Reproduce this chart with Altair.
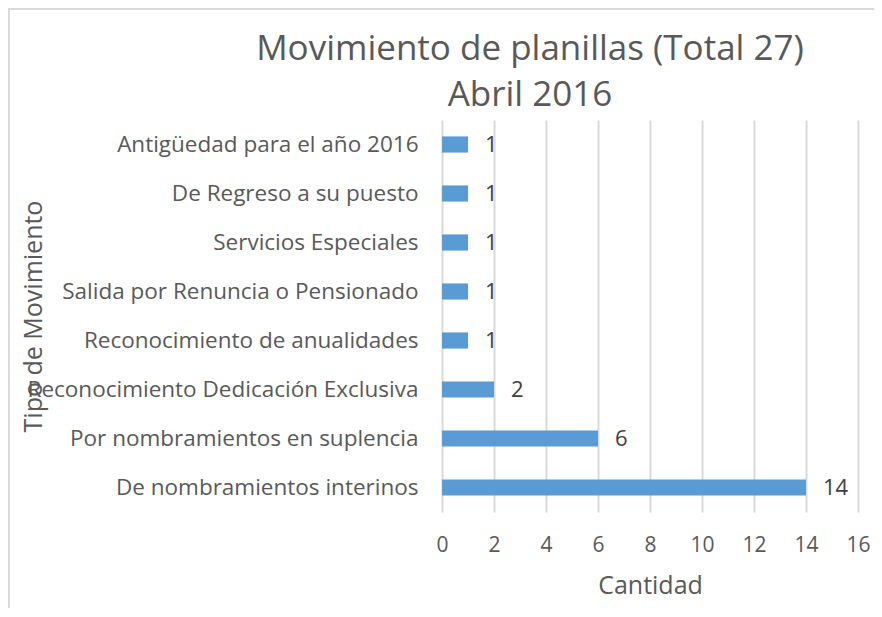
import altair as alt
import pandas as pd

categories = [
    "Antigüedad para el año 2016",
    "De Regreso a su puesto",
    "Servicios Especiales",
    "Salida por Renuncia o Pensionado",
    "Reconocimiento de anualidades",
    "Reconocimiento Dedicación Exclusiva",
    "Por nombramientos en suplencia",
    "De nombramientos interinos",
]
values = [1, 1, 1, 1, 1, 2, 6, 14]
x_ticks = [0, 2, 4, 6, 8, 10, 12, 14, 16]

df = pd.DataFrame({"tipo": categories, "cantidad": values})

FONT = "Open Sans"
GRAY = "#595959"

base = alt.Chart(df)

y_enc = alt.Y(
    "tipo:N",
    sort=categories,
    scale=alt.Scale(paddingInner=0.67, paddingOuter=0.335),
    axis=alt.Axis(
        title="Tipo de Movimiento",
        domain=False,
        ticks=False,
        labelPadding=24,
        labelFontSize=22.5,
        labelColor=GRAY,
        labelFont=FONT,
        labelLimit=500,
        titleFont=FONT,
        titleFontSize=25,
        titleFontWeight="normal",
        titleColor=GRAY,
        titleX=-409,
        titleY=196,
        titleAlign="center",
        titleBaseline="middle",
        titleAngle=-90,
    ),
)

x_enc = alt.X(
    "cantidad:Q",
    scale=alt.Scale(domain=[0, 16], nice=False),
    axis=alt.Axis(
        title="Cantidad",
        values=x_ticks,
        domain=False,
        ticks=False,
        grid=True,
        gridColor="#d9d9d9",
        gridWidth=2,
        labelFlush=False,
        labelPadding=22,
        labelFontSize=21,
        labelColor=GRAY,
        labelFont=FONT,
        titleFont=FONT,
        titleFontSize=25,
        titleFontWeight="normal",
        titleColor=GRAY,
        titlePadding=18,
    ),
)

border = alt.Chart(alt.Data(values=[{"a": 1}])).mark_rect(
    fill=None, stroke="#d9d9d9", strokeWidth=2
).encode(
    x=alt.value(-433), x2=alt.value(1200),
    y=alt.value(-111), y2=alt.value(1200),
)

bars = base.mark_bar(color="#5b9bd5").encode(y=y_enc, x=x_enc)

labels = base.mark_text(
    align="left", baseline="middle", dx=17, font=FONT, fontSize=22, color="#404040"
).encode(y=alt.Y("tipo:N", sort=categories), x="cantidad:Q", text="cantidad:Q")

chart = alt.layer(border, bars, labels).properties(
    width=416,
    height=392,
    autosize=alt.AutoSizeParams(type="none"),
    padding={"left": 434, "top": 112, "right": 16, "bottom": 96},
    title=alt.TitleParams(
        text=["Movimiento de planillas (Total 27)", "Abril 2016"],
        font=FONT,
        fontSize=35,
        fontWeight="normal",
        color=GRAY,
        anchor="middle",
        frame="group",
        dx=-120,
        lineHeight=46,
        offset=-105,
    ),
).configure_view(stroke=None)

chart.save("out.html", embed_options={"renderer": "svg", "actions": False})
